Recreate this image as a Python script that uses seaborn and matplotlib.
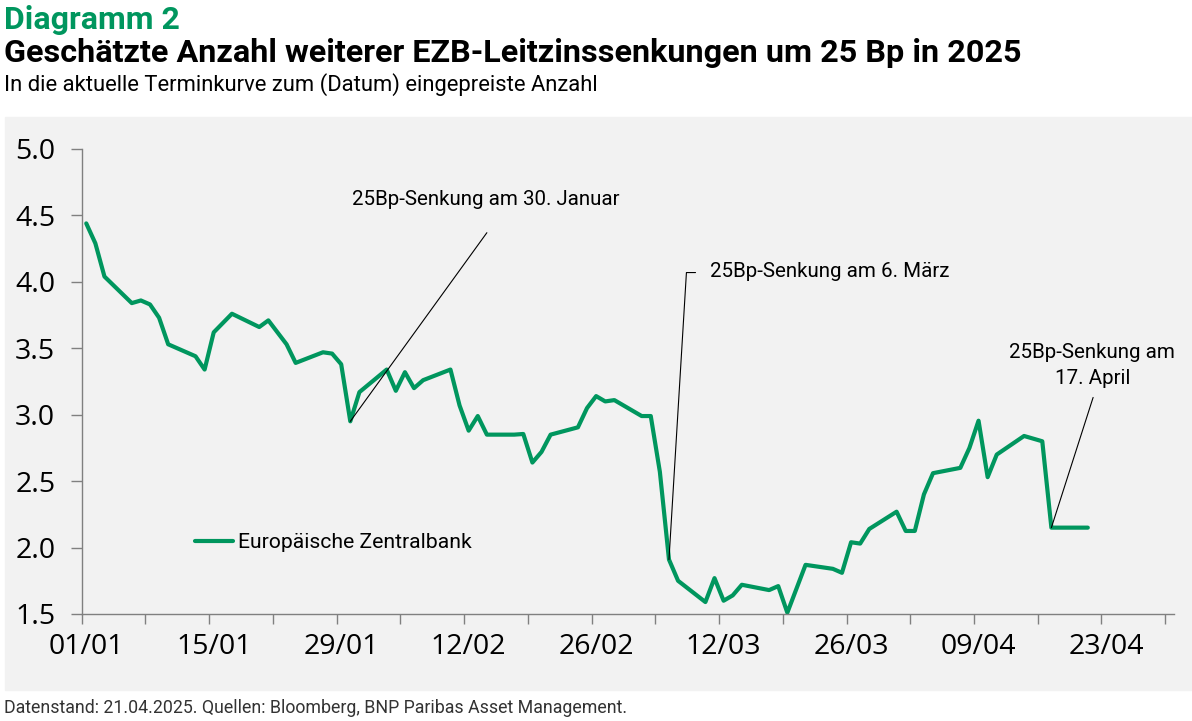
import pandas as pd
import matplotlib.pyplot as plt
import matplotlib.patches as mpatches
import seaborn as sns

# Anzahl eingepreister Senkungen
dates = [
    "2025-01-01", "2025-01-02", "2025-01-03", "2025-01-06", "2025-01-07",
    "2025-01-08", "2025-01-09", "2025-01-10", "2025-01-13", "2025-01-14",
    "2025-01-15", "2025-01-17", "2025-01-20", "2025-01-21", "2025-01-23",
    "2025-01-24", "2025-01-27", "2025-01-28", "2025-01-29", "2025-01-30",
    "2025-01-31", "2025-02-03", "2025-02-04", "2025-02-05", "2025-02-06",
    "2025-02-07", "2025-02-10", "2025-02-11", "2025-02-12", "2025-02-13",
    "2025-02-14", "2025-02-17", "2025-02-18", "2025-02-19", "2025-02-20",
    "2025-02-21", "2025-02-24", "2025-02-25", "2025-02-26", "2025-02-27",
    "2025-02-28", "2025-03-03", "2025-03-04", "2025-03-05", "2025-03-06",
    "2025-03-07", "2025-03-10", "2025-03-11", "2025-03-12", "2025-03-13",
    "2025-03-14", "2025-03-17", "2025-03-18", "2025-03-19", "2025-03-21",
    "2025-03-24", "2025-03-25", "2025-03-26", "2025-03-27", "2025-03-28",
    "2025-03-31", "2025-04-01", "2025-04-02", "2025-04-03", "2025-04-04",
    "2025-04-07", "2025-04-08", "2025-04-09", "2025-04-10", "2025-04-11",
    "2025-04-14", "2025-04-16", "2025-04-17", "2025-04-21",
]
ezb = [
    4.44, 4.29, 4.04, 3.84, 3.86,
    3.83, 3.73, 3.53, 3.44, 3.34,
    3.62, 3.76, 3.66, 3.71, 3.53,
    3.39, 3.47, 3.46, 3.38, 2.95,
    3.17, 3.34, 3.18, 3.32, 3.20,
    3.26, 3.34, 3.07, 2.88, 2.99,
    2.85, 2.85, 2.855, 2.64, 2.72,
    2.85, 2.905, 3.05, 3.14, 3.10,
    3.11, 2.99, 2.99, 2.57, 1.91,
    1.75, 1.59, 1.77, 1.60, 1.64,
    1.72, 1.68, 1.71, 1.51, 1.87,
    1.84, 1.81, 2.04, 2.03, 2.14,
    2.27, 2.125, 2.125, 2.40, 2.56,
    2.60, 2.75, 2.955, 2.53, 2.70,
    2.84, 2.80, 2.15, 2.15,
]
series_name = "Europäische Zentralbank"

y_ticks = [1.5, 2.0, 2.5, 3.0, 3.5, 4.0, 4.5, 5.0]
label_dates = ["2025-01-01", "2025-01-15", "2025-01-29", "2025-02-12", "2025-02-26",
               "2025-03-12", "2025-03-26", "2025-04-09", "2025-04-23"]

# Zinsschritte mit Beschriftung
cut_dates = ["2025-01-30", "2025-03-06", "2025-04-17"]
cut_labels = ["25Bp-Senkung am 30. Januar", "25Bp-Senkung am 6. März",
              "25Bp-Senkung am\n17. April"]

GREEN = "#00965E"
PANEL = "#f2f2f2"
TICK_FONT = ["Open Sans", "DejaVu Sans"]

df = pd.DataFrame({"Datum": pd.to_datetime(dates), "Wert": ezb})
half_day = pd.Timedelta(hours=12)

sns.set_theme(style="ticks")
plt.rcParams["font.family"] = ["Roboto", "DejaVu Sans"]

fig = plt.figure(figsize=(11.92, 7.21), dpi=100)
fig.patches.append(mpatches.Rectangle((5 / 1192, 1 - 690 / 721), 1, (690 - 117) / 721,
                                      transform=fig.transFigure, color=PANEL, zorder=-10))
ax = fig.add_axes([81.7 / 1192, 1 - 614 / 721, 1092.6 / 1192, 465 / 721])
ax.set_facecolor(PANEL)

sns.lineplot(data=df, x="Datum", y="Wert", color=GREEN, linewidth=3.0,
             label=series_name, ax=ax, clip_on=False)

# Achsen
x0 = pd.Timestamp("2025-01-01") - half_day
x1 = pd.Timestamp("2025-04-30") + half_day
ax.set_xlim(x0, x1)
ax.set_ylim(1.5, 5.0)
ax.set_xlabel("")
ax.set_ylabel("")

week_ticks = pd.date_range("2025-01-01", "2025-04-30", freq="7D") - half_day
ax.set_xticks(week_ticks)
ax.set_xticklabels([""] * len(week_ticks))
lab_pos = pd.to_datetime(label_dates)
ax.set_xticks(lab_pos, minor=True)
ax.set_xticklabels([d.strftime("%d/%m") for d in lab_pos], minor=True,
                   fontsize=20.5, fontweight="medium", family=TICK_FONT, color="black")
ax.tick_params(axis="x", which="major", length=7, width=1, color="#808080", direction="out")
ax.tick_params(axis="x", which="minor", length=0, pad=14)

ax.set_yticks(y_ticks)
ax.set_yticklabels([f"{v:.1f}" for v in y_ticks], fontsize=20.5, fontweight="medium",
                   family=TICK_FONT, color="black")
ax.tick_params(axis="y", length=8, width=1, color="#808080", pad=11)

for side in ["top", "right"]:
    ax.spines[side].set_visible(False)
for side in ["left", "bottom"]:
    ax.spines[side].set_color("#808080")
    ax.spines[side].set_linewidth(1)

# Anmerkungen
line_kw = dict(color="black", lw=0.8, zorder=3)
cut = pd.to_datetime(cut_dates)
cut_vals = [df.loc[df["Datum"] == d, "Wert"].iloc[0] for d in cut]

ax.plot([cut[0], pd.Timestamp("2025-02-14")], [cut_vals[0], 4.37], **line_kw)
ax.text(pd.Timestamp("2025-02-13 21:00"), 4.62, cut_labels[0], ha="center", va="center",
        fontsize=14.8, color="black")

ax.plot([cut[1], pd.Timestamp("2025-03-07 22:00"), pd.Timestamp("2025-03-08 22:00")],
        [cut_vals[1], 4.07, 4.07], **line_kw)
ax.text(pd.Timestamp("2025-03-10 12:00"), 4.08, cut_labels[1], ha="left", va="center",
        fontsize=14.8, color="black")

ax.plot([cut[2], pd.Timestamp("2025-04-21 14:00")], [cut_vals[2], 3.13], **line_kw)
ax.text(pd.Timestamp("2025-04-21 12:00"), 3.37, cut_labels[2], ha="center", va="center",
        fontsize=14.8, color="black", linespacing=1.45)

leg = ax.legend(loc="center left", bbox_to_anchor=(0.104, 0.153), frameon=False,
                fontsize=15.2, handlelength=1.8, handletextpad=0.2,
                borderpad=0, borderaxespad=0)
for t in leg.get_texts():
    t.set_color("black")

# Titel
fig.text(4 / 1192, 1 - 29 / 721, "Diagramm 2", fontsize=23, fontweight="bold",
         color=GREEN, va="baseline", ha="left")
fig.text(4 / 1192, 1 - 62 / 721,
         "Geschätzte Anzahl weiterer EZB-Leitzinssenkungen um 25 Bp in 2025",
         fontsize=23.3, fontweight="bold", color="black", va="baseline", ha="left")
fig.text(4 / 1192, 1 - 91 / 721,
         "In die aktuelle Terminkurve zum (Datum) eingepreiste Anzahl",
         fontsize=15.8, color="black", va="baseline", ha="left")
fig.text(4 / 1192, 1 - 713 / 721,
         "Datenstand: 21.04.2025. Quellen: Bloomberg, BNP Paribas Asset Management.",
         fontsize=12.8, color="#333333", va="baseline", ha="left")

fig.savefig("out.png", dpi=100, facecolor="white")
